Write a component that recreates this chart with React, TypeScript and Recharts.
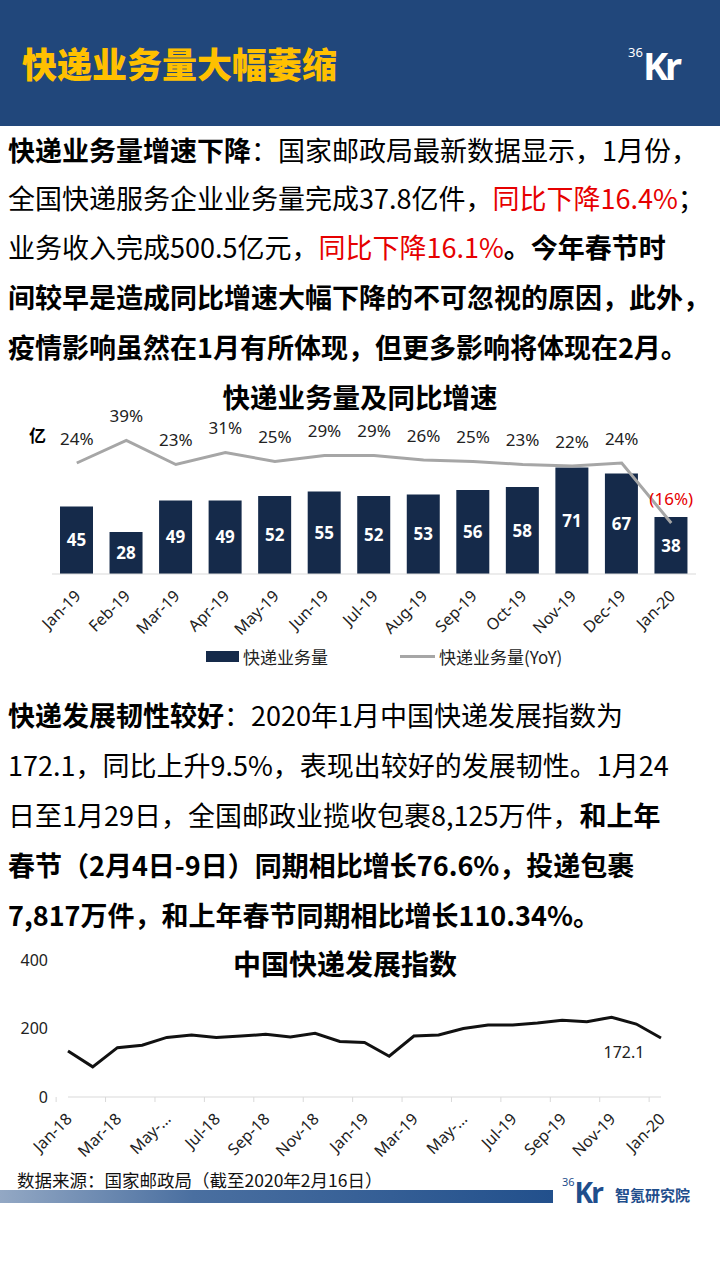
import React from "react";
import {
  ComposedChart,
  LineChart,
  Bar,
  Line,
  XAxis,
  YAxis,
  Legend,
  LabelList,
} from "recharts";

// 快递业务量 (亿件) and YoY growth, Jan-19 .. Jan-20
const volumeMonths = [
  "Jan-19", "Feb-19", "Mar-19", "Apr-19", "May-19", "Jun-19", "Jul-19",
  "Aug-19", "Sep-19", "Oct-19", "Nov-19", "Dec-19", "Jan-20",
];
const volumeValues = [45, 28, 49, 49, 52, 55, 52, 53, 56, 58, 71, 67, 38];
const volumeYoy = [24, 39, 23, 31, 25, 29, 29, 26, 25, 23, 22, 24, -16];

// 中国快递发展指数, Jan-18 .. Jan-20
const indexMonths = [
  "Jan-18", "Feb-18", "Mar-18", "Apr-18", "May-18", "Jun-18", "Jul-18",
  "Aug-18", "Sep-18", "Oct-18", "Nov-18", "Dec-18", "Jan-19", "Feb-19",
  "Mar-19", "Apr-19", "May-19", "Jun-19", "Jul-19", "Aug-19", "Sep-19",
  "Oct-19", "Nov-19", "Dec-19", "Jan-20",
];
const indexValues = [
  134, 88, 144, 151, 174, 181, 174, 178, 183, 175, 186, 162, 159, 119,
  178, 181, 200, 210, 210, 216, 224, 220, 233, 213, 172.1,
];
const indexTicks = [0, 200, 400];

const CJK = "'Noto Sans CJK SC', 'Noto Sans', sans-serif";
const LATIN = "'Noto Sans', 'Noto Sans CJK SC', sans-serif";
const NAVY = "#152a4a";
const GRAY = "#a6a6a6";
const RED = "#e60000";
const HEADER_BLUE = "#21477b";

const volumeData = volumeMonths.map((month, i) => ({
  month,
  volume: volumeValues[i],
  yoy: volumeYoy[i],
}));

const indexData = indexMonths.map((month, i) => ({
  month,
  value: indexValues[i],
}));

// the index chart's axis cuts May labels short, as in the source
const shortLabel = (v: string) => (v.startsWith("May") ? "May-..." : v);

const AngledTick = (props: any) => {
  const { x, y, payload, bandShift, truncate } = props;
  const ax = x + 5;
  const ay = y + 23;
  return (
    <g>
      {bandShift ? (
        <line
          x1={x - bandShift}
          x2={x - bandShift}
          y1={y}
          y2={y + 5}
          stroke="#d9d9d9"
        />
      ) : null}
      <text
        x={ax}
        y={ay}
        transform={`rotate(-45 ${ax} ${ay})`}
        textAnchor="end"
        fontSize={16}
        fontFamily={LATIN}
        fill="#222"
      >
        {truncate ? shortLabel(payload.value) : payload.value}
      </text>
    </g>
  );
};

const PctLabel = (props: any) => {
  const { x, y, value } = props;
  const neg = value < 0;
  return (
    <text
      x={x}
      y={y - 25}
      textAnchor="middle"
      dominantBaseline="central"
      fontSize={17}
      fontFamily={LATIN}
      fill={neg ? RED : "#222"}
    >
      {neg ? `(${-value}%)` : `${value}%`}
    </text>
  );
};

const LastLabel = (props: any) => {
  const { x, y, value, index } = props;
  if (index !== indexData.length - 1) return null;
  return (
    <text
      x={x - 37}
      y={y + 14}
      textAnchor="middle"
      dominantBaseline="central"
      fontSize={16}
      fontFamily={LATIN}
      fill="#222"
    >
      {value}
    </text>
  );
};

const VolumeLegend = (props: any) => {
  const { payload = [] } = props;
  return (
    <div
      style={{
        display: "flex",
        alignItems: "center",
        height: 20,
        paddingLeft: 206,
        gap: 72,
        fontFamily: CJK,
        fontSize: 17,
        color: "#222",
      }}
    >
      {payload.map((item: any) => (
        <div key={item.value} style={{ display: "flex", alignItems: "center" }}>
          {item.type === "line" ? (
            <span style={{ width: 35, height: 3, background: item.color, marginRight: 4 }} />
          ) : (
            <span style={{ width: 33, height: 11, background: item.color, marginRight: 4 }} />
          )}
          <span>{item.value}</span>
        </div>
      ))}
    </div>
  );
};

const abs = (top: number, extra: React.CSSProperties = {}): React.CSSProperties => ({
  position: "absolute",
  top,
  whiteSpace: "nowrap",
  ...extra,
});

const lineStyle = (center: number): React.CSSProperties =>
  abs(center - 20, { left: 8, height: 40, lineHeight: "40px", fontSize: 27 });

const B = ({ children }: { children: React.ReactNode }) => (
  <span style={{ fontWeight: 700 }}>{children}</span>
);
const R = ({ children }: { children: React.ReactNode }) => (
  <span style={{ color: RED }}>{children}</span>
);

export default function App() {
  return (
    <div
      style={{
        position: "absolute",
        left: 0,
        top: 0,
        width: 720,
        height: 1280,
        background: "#fff",
        overflow: "hidden",
        fontFamily: CJK,
        color: "#000",
      }}
    >
      {/* header */}
      <div style={{ position: "absolute", left: 0, top: 0, width: 720, height: 126, background: HEADER_BLUE }}>
        <div
          style={abs(40, {
            left: 22,
            fontSize: 35,
            lineHeight: "46px",
            fontWeight: 900,
            color: "#ffc000",
          })}
        >
          快递业务量大幅萎缩
        </div>
        <div style={abs(44, { left: 628, color: "#fff", fontFamily: LATIN })}>
          <span style={{ fontSize: 13, verticalAlign: "top", lineHeight: "16px" }}>36</span>
          <span style={{ fontSize: 38, fontWeight: 700, lineHeight: "42px", letterSpacing: -3 }}>Kr</span>
        </div>
      </div>

      {/* paragraph 1 */}
      <div style={lineStyle(150)}>
        <B>快递业务量增速下降</B>：国家邮政局最新数据显示，1月份，
      </div>
      <div style={lineStyle(198)}>
        全国快递服务企业业务量完成37.8亿件，<R>同比下降16.4%</R>；
      </div>
      <div style={lineStyle(247)}>
        业务收入完成500.5亿元，<R>同比下降16.1%</R>
        <B>。今年春节时</B>
      </div>
      <div style={lineStyle(297)}>
        <B>间较早是造成同比增速大幅下降的不可忽视的原因，此外，</B>
      </div>
      <div style={lineStyle(347)}>
        <B>疫情影响虽然在1月有所体现，但更多影响将体现在2月。</B>
      </div>

      {/* chart 1 */}
      <div style={abs(379, { left: 0, width: 720, textAlign: "center", fontSize: 27.5, fontWeight: 700, lineHeight: "34px" })}>
        快递业务量及同比增速
      </div>
      <div style={abs(423, { left: 29, fontSize: 17, fontWeight: 700, lineHeight: "24px" })}>亿</div>
      <div style={{ position: "absolute", left: 0, top: 380 }}>
        <ComposedChart
          width={720}
          height={300}
          data={volumeData}
          margin={{ top: 44, right: 24, bottom: 14, left: 52 }}
        >
          <XAxis
            dataKey="month"
            interval={0}
            height={72}
            axisLine={{ stroke: "#d9d9d9" }}
            tickLine={false}
            tickSize={0}
            tickMargin={0}
            tick={<AngledTick />}
          />
          <YAxis yAxisId="v" hide domain={[0, 100]} />
          <YAxis yAxisId="p" hide orientation="right" domain={[-50, 50]} />
          <Legend
            verticalAlign="bottom"
            content={<VolumeLegend />}
            wrapperStyle={{ left: 0, width: 720 }}
          />
          <Bar
            yAxisId="v"
            dataKey="volume"
            name="快递业务量"
            fill={NAVY}
            barSize={33}
            isAnimationActive={false}
          >
            <LabelList
              dataKey="volume"
              position="center"
              fill="#fff"
              fontSize={17}
              fontWeight={700}
              fontFamily={LATIN}
            />
          </Bar>
          <Line
            yAxisId="p"
            dataKey="yoy"
            name="快递业务量(YoY)"
            type="linear"
            stroke={GRAY}
            strokeWidth={3}
            dot={false}
            legendType="line"
            isAnimationActive={false}
          >
            <LabelList dataKey="yoy" content={<PctLabel />} />
          </Line>
        </ComposedChart>
      </div>

      {/* paragraph 2 */}
      <div style={lineStyle(715)}>
        <B>快递发展韧性较好</B>：2020年1月中国快递发展指数为
      </div>
      <div style={lineStyle(765)}>
        172.1，同比上升9.5%，表现出较好的发展韧性。1月24
      </div>
      <div style={lineStyle(815)}>
        日至1月29日，全国邮政业揽收包裹8,125万件，<B>和上年</B>
      </div>
      <div style={lineStyle(865)}>
        <B>春节（2月4日-9日）同期相比增长76.6%，投递包裹</B>
      </div>
      <div style={lineStyle(915)}>
        <B>7,817万件，和上年春节同期相比增长110.34%。</B>
      </div>

      {/* chart 2 */}
      <div style={abs(946, { left: 0, width: 690, textAlign: "center", fontSize: 28, fontWeight: 700, lineHeight: "34px" })}>
        中国快递发展指数
      </div>
      <div style={{ position: "absolute", left: 0, top: 940 }}>
        <LineChart
          width={720}
          height={230}
          data={indexData}
          margin={{ top: 20, right: 59, bottom: 0, left: 0 }}
        >
          <XAxis
            dataKey="month"
            interval={1}
            height={73}
            axisLine={{ stroke: "#d9d9d9" }}
            tickLine={false}
            tickSize={0}
            tickMargin={0}
            tick={<AngledTick truncate bandShift={(720 - 68 - 59) / indexMonths.length / 2} />}
          />
          <YAxis
            domain={[0, 400]}
            ticks={indexTicks}
            width={68}
            axisLine={false}
            tickLine={false}
            tickMargin={14}
            tick={{ fontSize: 16, fill: "#222", fontFamily: LATIN }}
          />
          <Line
            dataKey="value"
            type="linear"
            stroke="#111"
            strokeWidth={3}
            dot={false}
            isAnimationActive={false}
          >
            <LabelList dataKey="value" content={<LastLabel />} />
          </Line>
        </LineChart>
      </div>

      {/* footer */}
      <div style={abs(1168, { left: 17, fontSize: 17.5, lineHeight: "24px", color: "#111" })}>
        数据来源：国家邮政局（截至2020年2月16日）
      </div>
      <div
        style={{
          position: "absolute",
          left: 0,
          top: 1190,
          width: 553,
          height: 13,
          background: "linear-gradient(to right, #93a8c4 0%, #4a6fa0 35%, #22508c 100%)",
        }}
      />
      <div style={abs(1176, { left: 562, color: "#1f4e8c", fontFamily: LATIN })}>
        <span style={{ fontSize: 11, verticalAlign: "top", lineHeight: "12px" }}>36</span>
        <span style={{ fontSize: 28, fontWeight: 700, lineHeight: "32px", letterSpacing: -2 }}>Kr</span>
      </div>
      <div style={abs(1184, { left: 615, fontSize: 15, fontWeight: 700, lineHeight: "22px", color: "#1f4e8c" })}>
        智氪研究院
      </div>
    </div>
  );
}
